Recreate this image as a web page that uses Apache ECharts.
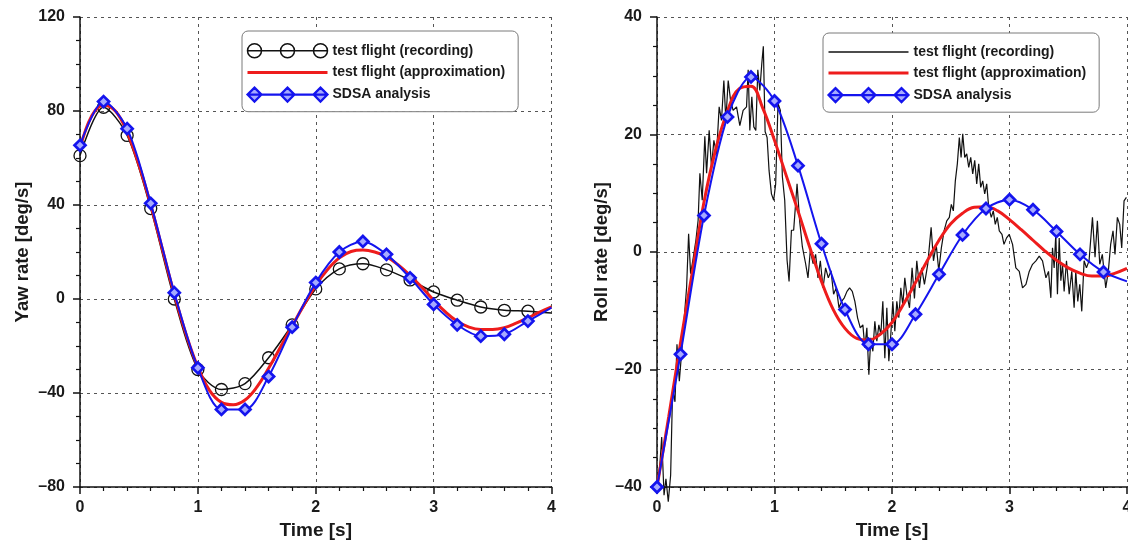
<!DOCTYPE html>
<html>
<head>
<meta charset="utf-8">
<script src="https://cdn.jsdelivr.net/npm/echarts@6.0.0/dist/echarts.min.js"></script>
<style>
  html, body { margin: 0; padding: 0; background: #fff; }
  #chart { width: 1128px; height: 544px; }
</style>
</head>
<body>
<div id="chart"></div>
<script>
// Sample times [s]
const timeMarks = [0, 0.2, 0.4, 0.6, 0.8, 1.0, 1.2, 1.4, 1.6, 1.8, 2.0, 2.2, 2.4, 2.6, 2.8, 3.0, 3.2, 3.4, 3.6, 3.8, 4.0];
const timeFine = [0, 0.1, 0.2, 0.3, 0.4, 0.5, 0.6, 0.7, 0.8, 0.9, 1.0, 1.1, 1.2, 1.3, 1.4, 1.5, 1.6, 1.7, 1.8, 1.9, 2.0,
                  2.1, 2.2, 2.3, 2.4, 2.5, 2.6, 2.7, 2.8, 2.9, 3.0, 3.1, 3.2, 3.3, 3.4, 3.5, 3.6, 3.7, 3.8, 3.9, 4.0];

// Yaw rate [deg/s]
const yawRecording = [61, 81.6, 69.6, 38.5, 0, -30, -38.5, -36, -25, -11, 4.3, 12.8, 15, 12.4, 8.1, 3, -0.5, -3.4, -4.8, -5.2, -6];
const yawApprox = [64, 78, 82.5, 80, 71, 57, 40, 21, 2, -15, -29, -39, -44, -45, -43, -37.5, -29.5, -20.5, -11.5, -2.5, 5.8,
                   12.5, 17.5, 20.2, 20.8, 20, 18, 14.5, 10, 5, -0.5, -5.5, -9.5, -12, -13, -13, -12.2, -10.3, -8, -5.6, -3.4];
const yawSdsa = [65.4, 84, 72.5, 40.7, 2.7, -29.3, -47, -47, -33, -12, 7, 20, 24.5, 19, 9, -2.3, -11, -15.8, -15, -9.4, -3.7];

// Roll rate [deg/s]
const rollApprox = [-40, -28, -15.5, -3.5, 8.5, 17.5, 24, 27.8, 28.2, 24.5, 19, 13, 7, 0.8, -5, -9.8, -13, -14.7, -15, -14, -12,
                    -8.8, -5.2, -1.5, 2, 4.8, 6.6, 7.6, 7.7, 7, 5.5, 3.8, 2, 0.2, -1.4, -2.7, -3.6, -4.1, -4.1, -3.6, -2.8];
const rollSdsa = [-40, -17.4, 6.2, 23, 29.8, 25.7, 14.7, 1.4, -9.8, -15.7, -15.7, -10.6, -3.8, 2.9, 7.4, 8.9, 7.2, 3.5, -0.4, -3.4, -5];
// Roll rate recording: [time, value]
const rollRecording = [
  [0, -40], [0.025, -36], [0.04, -31.5], [0.06, -41.4], [0.076, -38.6], [0.096, -42.5], [0.116, -38], [0.133, -23.2],
  [0.153, -25.5], [0.17, -15.7], [0.19, -22], [0.21, -17], [0.23, -11.7], [0.252, -6], [0.269, 3.1], [0.286, -3.7],
  [0.309, -0.9], [0.331, 2], [0.35, 5.4], [0.365, 13.4], [0.385, 8.8], [0.407, 19.7], [0.422, 13.4], [0.444, 20.7],
  [0.464, 14.4], [0.484, 19], [0.507, 16.7], [0.529, 24.7], [0.549, 22.4], [0.569, 29.2], [0.586, 22.4], [0.606, 29.2],
  [0.626, 25.8], [0.648, 24.1], [0.677, 24.7], [0.705, 21.5], [0.733, 24.1], [0.762, 24.7], [0.776, 31], [0.79, 20.7],
  [0.807, 26.4], [0.824, 21.3], [0.841, 20.7], [0.858, 31], [0.875, 27.5], [0.892, 32.1], [0.905, 35], [0.92, 20.5],
  [0.937, 19.5], [0.954, 13.8], [0.974, 9.9], [0.993, 8.8], [1.01, 11.6], [1.03, 25.3], [1.05, 24.1], [1.067, 12.8],
  [1.087, 8.8], [1.107, -1.4], [1.124, -5], [1.144, 3.7], [1.163, 3.7], [1.192, 11.6], [1.214, 5.3], [1.237, 0.9],
  [1.265, -2], [1.285, -4.4], [1.305, 0.3], [1.328, -2], [1.35, -0.4], [1.37, -4.4], [1.39, -1.5], [1.413, -6.1],
  [1.435, -2.7], [1.458, -4.4], [1.481, -3.2], [1.503, -7.2], [1.526, -6.1], [1.549, -9.5], [1.571, -8.4], [1.594, -7.8],
  [1.617, -6.7], [1.639, -6.1], [1.662, -6.7], [1.684, -8.4], [1.707, -11.2], [1.73, -12.9], [1.752, -12.4], [1.769, -16.3],
  [1.786, -12.9], [1.803, -20.9], [1.82, -14.6], [1.837, -16.9], [1.854, -11.8], [1.871, -15.2], [1.888, -12.4], [1.905, -14],
  [1.922, -8.4], [1.939, -18.1], [1.956, -9.5], [1.973, -18.6], [1.99, -14], [2.007, -8.4], [2.024, -13.5], [2.041, -8.4],
  [2.058, -11.2], [2.075, -6.1], [2.092, -9], [2.109, -4.4], [2.126, -7.2], [2.149, -9.5], [2.171, -2.7], [2.191, -7.9],
  [2.211, -1.5], [2.234, -6.1], [2.253, -2.7], [2.276, -5.5], [2.304, -2.1], [2.333, 4.2], [2.353, -1.5], [2.376, 1.3],
  [2.398, -3.2], [2.42, 0.7], [2.443, 3.6], [2.466, 5.3], [2.488, 5.9], [2.505, 8.1], [2.522, 7], [2.539, 12.1],
  [2.556, 15], [2.573, 19.5], [2.588, 16.1], [2.602, 20.1], [2.619, 16.1], [2.636, 16.7], [2.653, 14.4], [2.67, 16.1],
  [2.687, 13.3], [2.704, 15.6], [2.721, 11.6], [2.738, 15], [2.755, 11], [2.772, 12.1], [2.789, 9.9], [2.806, 11.6],
  [2.823, 7.6], [2.845, 5.9], [2.862, 7], [2.879, 4.7], [2.896, 5.9], [2.913, 3.6], [2.936, 3], [2.953, 1.3],
  [2.975, 2.4], [2.998, 3], [3.026, 1.3], [3.054, -2.7], [3.083, -3.3], [3.111, -6.1], [3.14, -5.5], [3.168, -3.3],
  [3.196, -2.1], [3.225, -1.5], [3.253, -0.7], [3.281, -1.5], [3.31, -4.4], [3.332, -3.3], [3.352, -7.8], [3.366, 0.7],
  [3.38, -2.7], [3.394, 3], [3.408, -7.2], [3.423, 2.4], [3.437, -4.9], [3.451, -2.1], [3.465, -6.7], [3.485, -1.5],
  [3.508, -7.2], [3.53, -3.3], [3.55, -9.5], [3.564, -3.3], [3.581, -8.4], [3.598, -5.5], [3.615, -10.1], [3.635, -1.5],
  [3.655, -2.7], [3.677, -1.5], [3.706, 5.9], [3.728, -0.9], [3.748, 5.3], [3.768, -2.1], [3.79, -0.4], [3.819, -6.1],
  [3.841, -3.3], [3.861, 1.3], [3.881, 3.6], [3.898, -0.4], [3.918, 5.9], [3.938, 4.7], [3.955, 0.7], [3.975, 8.7],
  [3.995, 9.3]
];

const NAME_REC = 'test flight (recording)';
const NAME_APPROX = 'test flight (approximation)';
const NAME_SDSA = 'SDSA analysis';

const FONT = '"Liberation Sans", Arial, Helvetica, sans-serif';
const INK = '#111';
const RED = '#ee1c1c';
const BLUE = '#1414ee';

// Pair x and y arrays; the last sample carries the line to the edge without a marker
function pairs(xs, ys, hideLast) {
  return xs.map((x, i) => (hideLast && i === xs.length - 1)
    ? { value: [x, ys[i]], symbol: 'none' }
    : [x, ys[i]]);
}

function minusLabel(v) {
  return v < 0 ? '\u2013' + Math.abs(v) : String(v);
}

const gridLineStyle = { color: '#555', type: [3, 4], width: 1 };

function timeAxis(gridIndex) {
  return {
    type: 'value', gridIndex, min: 0, max: 4, interval: 1,
    name: 'Time [s]', nameLocation: 'middle', nameGap: 30,
    nameTextStyle: { fontFamily: FONT, fontWeight: 'bold', fontSize: 19, color: '#1a1a1a' },
    axisLine: { onZero: false, lineStyle: { color: INK, width: 1.5 } },
    axisTick: { length: 7, lineStyle: { color: INK, width: 1.5 } },
    minorTick: { show: true, splitNumber: 5, length: 4, lineStyle: { color: INK, width: 1.2 } },
    axisLabel: { margin: 13, fontFamily: FONT, fontWeight: 'bold', fontSize: 16, color: '#1a1a1a',
                 showMinLabel: true, showMaxLabel: true },
    splitLine: { show: true, lineStyle: gridLineStyle }
  };
}

function rateAxis(gridIndex, name, min, max, interval, nameGap) {
  return {
    type: 'value', gridIndex, min, max, interval,
    name, nameLocation: 'middle', nameGap, nameRotate: 90,
    nameTextStyle: { fontFamily: FONT, fontWeight: 'bold', fontSize: 18.5, color: '#1a1a1a' },
    axisLine: { show: true, onZero: false, lineStyle: { color: INK, width: 1.5 } },
    axisTick: { show: true, length: 7, lineStyle: { color: INK, width: 1.5 } },
    minorTick: { show: true, splitNumber: 4, length: 4, lineStyle: { color: INK, width: 1.2 } },
    axisLabel: { margin: 15, fontFamily: FONT, fontWeight: 'bold', fontSize: 16, color: '#1a1a1a',
                 formatter: minusLabel, showMinLabel: true, showMaxLabel: true },
    splitLine: { show: true, lineStyle: gridLineStyle }
  };
}

// Legend icons: a line through three markers
const circleTrio = 'path://M0 7L80 7M14 7A7 7 0 1 1 0 7A7 7 0 1 1 14 7ZM47 7A7 7 0 1 1 33 7A7 7 0 1 1 47 7ZM80 7A7 7 0 1 1 66 7A7 7 0 1 1 80 7Z';
const diamondTrio = 'path://M0 7L80 7M7 0L14 7L7 14L0 7ZM40 0L47 7L40 14L33 7ZM73 0L80 7L73 14L66 7Z';

const sdsaLegendItem = { name: NAME_SDSA, icon: diamondTrio,
  itemStyle: { color: '#a6aaff', borderColor: BLUE, borderWidth: 2.2 } };
const approxLegendItem = { name: NAME_APPROX, itemStyle: { opacity: 0 }, lineStyle: { width: 3, color: RED } };

function legendBox(left, top, items) {
  return {
    left, top, orient: 'vertical', selectedMode: false,
    itemWidth: 80, itemHeight: 14, itemGap: 7,
    padding: [12, 13, 9, 4],
    backgroundColor: '#fff', borderColor: '#7a7a7a', borderWidth: 1, borderRadius: 6,
    textStyle: { fontFamily: FONT, fontWeight: 'bold', fontSize: 14, color: '#1a1a1a', lineHeight: 14 },
    data: items
  };
}

const diamondStyle = { color: '#a6aaff', borderColor: BLUE, borderWidth: 2.7 };

const option = {
  animation: false,
  backgroundColor: '#fff',
  grid: [
    { left: 80, top: 17, width: 471.5, height: 470, containLabel: false, outerBoundsMode: 'none' },
    { left: 657, top: 17, width: 470, height: 470, containLabel: false, outerBoundsMode: 'none' }
  ],
  xAxis: [timeAxis(0), timeAxis(1)],
  yAxis: [
    rateAxis(0, 'Yaw rate [deg/s]', -80, 120, 40, 48),
    rateAxis(1, 'Roll rate [deg/s]', -40, 40, 20, 41)
  ],
  legend: [
    legendBox(242, 31, [
      { name: NAME_REC, icon: circleTrio, itemStyle: { color: 'transparent', borderColor: INK, borderWidth: 1.5 } },
      approxLegendItem,
      sdsaLegendItem
    ]),
    legendBox(823, 33, [
      { name: NAME_REC, itemStyle: { opacity: 0 }, lineStyle: { width: 1.5, color: INK } },
      approxLegendItem,
      sdsaLegendItem
    ])
  ],
  series: [
    {
      name: NAME_REC, type: 'line', xAxisIndex: 0, yAxisIndex: 0, z: 2,
      data: pairs(timeMarks, yawRecording, true),
      smooth: 0.3, symbol: 'circle', symbolSize: 12, showAllSymbol: true,
      lineStyle: { color: INK, width: 1.5 },
      itemStyle: { color: 'transparent', borderColor: INK, borderWidth: 1.3 },
      emphasis: { disabled: true }
    },
    {
      name: NAME_APPROX, type: 'line', xAxisIndex: 0, yAxisIndex: 0, z: 3,
      data: pairs(timeFine, yawApprox, false),
      smooth: 0.4, symbol: 'none',
      lineStyle: { color: RED, width: 3 }, itemStyle: { color: RED },
      emphasis: { disabled: true }
    },
    {
      name: NAME_SDSA, type: 'line', xAxisIndex: 0, yAxisIndex: 0, z: 4,
      data: pairs(timeMarks, yawSdsa, true),
      smooth: 0.3, symbol: 'diamond', symbolSize: 11, showAllSymbol: true,
      lineStyle: { color: BLUE, width: 2 }, itemStyle: diamondStyle,
      emphasis: { disabled: true }
    },
    {
      name: NAME_REC, type: 'line', xAxisIndex: 1, yAxisIndex: 1, z: 2,
      data: rollRecording, clip: false,
      symbol: 'none',
      lineStyle: { color: INK, width: 1.2 }, itemStyle: { color: INK },
      emphasis: { disabled: true }
    },
    {
      name: NAME_APPROX, type: 'line', xAxisIndex: 1, yAxisIndex: 1, z: 3,
      data: pairs(timeFine, rollApprox, false),
      smooth: 0.4, symbol: 'none',
      lineStyle: { color: RED, width: 3 }, itemStyle: { color: RED },
      emphasis: { disabled: true }
    },
    {
      name: NAME_SDSA, type: 'line', xAxisIndex: 1, yAxisIndex: 1, z: 4,
      data: pairs(timeMarks, rollSdsa, true),
      smooth: 0.3, symbol: 'diamond', symbolSize: 11, showAllSymbol: true,
      lineStyle: { color: BLUE, width: 2 }, itemStyle: diamondStyle,
      emphasis: { disabled: true }
    }
  ]
};

const chart = echarts.init(document.getElementById('chart'), null, { renderer: 'canvas' });
chart.setOption(option);
</script>
</body>
</html>
